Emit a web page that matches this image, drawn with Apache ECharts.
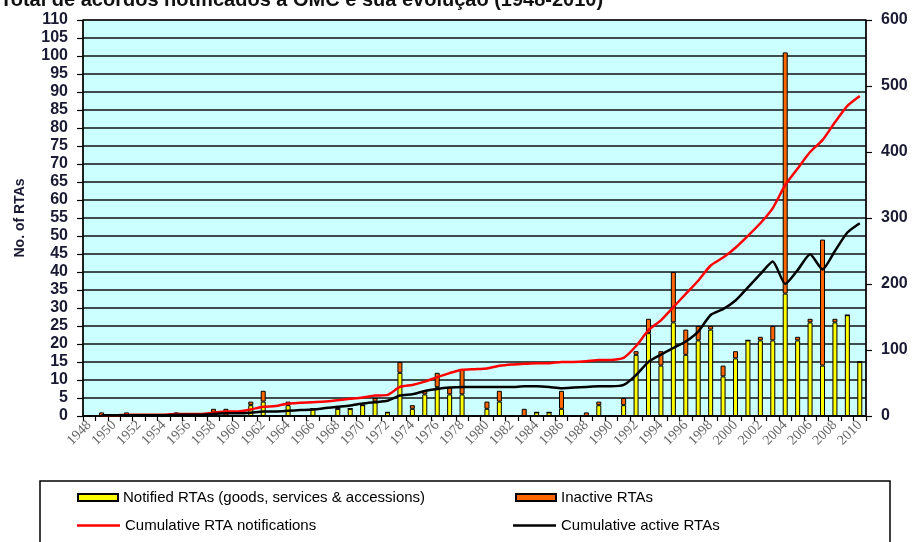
<!DOCTYPE html>
<html>
<head>
<meta charset="utf-8">
<script src="https://cdn.jsdelivr.net/npm/echarts@6/dist/echarts.min.js"></script>
<style>
html,body{margin:0;padding:0;background:#fff;}
#c{width:915px;height:542px;}
</style>
</head>
<body>
<div id="c"></div>
<script>
var titleText = 'Total de acordos notificados à OMC e sua evolução (1948-2010)';
var years = [];
for (var y = 1948; y <= 2010; y++) years.push(String(y));

// Notified RTAs still active (yellow part of each bar)
var notified = [0,0,0,0,0,0,0,0,0,0, 1,0,0,3,4,0,3,0,2,0, 2,2,3,4,1,12,2,6,8,6, 6,0,2,4,0,0,1,1,2,0, 0,3,0,3,17,23,14,26,17,21, 24,11,16,21,21,21,34,21,26,14, 26,28,15];
// Inactive RTAs (orange part stacked on top)
var inactive = [0,1,0,1,0,0,0,1,0,0, 1,2,0,1,3,0,1,0,0,0, 0,0,0,1,0,3,1,1,4,2, 7,0,2,3,0,2,0,0,5,0, 1,1,0,2,1,4,4,14,7,4, 1,3,2,0,1,4,67,1,1,35, 1,0,0];
// Cumulative RTA notifications (right axis)
var cumNotif = [null,1,1,2,2,2,2,3,3,3, 5,7,7,10,14,15,19,20,21,22, 24,26,28,31,32,44,47,52,59,65, 70,71,72,76,78,79,80,80,82,82, 83,85,85,88,106,130,145,165,185,205, 228,240,255,273,292,315,350,375,400,418, 445,470,485];
// Cumulative active RTAs (right axis)
var cumActive = [null,1,1,1,1,1,1,2,2,2, 3,4,4,5,7,7,8,9,10,12, 14,16,19,21,23,31,33,38,41,43, 44,44,44,44,44,45,45,44,42,43, 44,45,45,47,62,82,93,103,113,128, 153,162,175,195,215,234,200,221,245,222, 250,278,292];

var leftTicks = {min: 0, max: 110, interval: 5};
var rightTicks = {min: 0, max: 600, interval: 100};

var names = ['Notified RTAs (goods, services & accessions)', 'Inactive RTAs', 'Cumulative RTA notifications', 'Cumulative active RTAs'];

var chart = echarts.init(document.getElementById('c'), null, {renderer: 'canvas'});
var axisLabelStyle = {color: '#1a1a33', fontSize: 16, fontWeight: 'bold', fontFamily: 'Liberation Sans, Arial, sans-serif'};
var legendText = {color: '#000', fontSize: 15, fontFamily: 'Liberation Sans, Arial, sans-serif'};
function leg(name, left, top, isLine) {
  return {data: [{name: name, icon: 'rect'}], left: left, top: top, padding: 0, itemWidth: isLine ? 43 : 40, itemHeight: isLine ? 2.5 : 7, itemGap: 0, z: 10, textStyle: legendText, selectedMode: false};
}
chart.setOption({
  animation: false,
  backgroundColor: '#fff',
  title: {text: titleText, left: 0, top: -10, padding: 0, textStyle: {fontSize: 20, fontWeight: 'bold', color: '#111', fontFamily: 'Liberation Sans, Arial, sans-serif'}},
  graphic: [{type: 'rect', z: 0, shape: {x: 40, y: 481, width: 850, height: 80}, style: {fill: '#fff', stroke: '#000', lineWidth: 1.5}}],
  legend: [leg(names[0], 77, 490, false), leg(names[1], 515, 490, false), leg(names[2], 77, 518, true), leg(names[3], 513, 518, true)],
  grid: {left: 83, right: 49, top: 20, bottom: 126, show: true, backgroundColor: '#CCFFFF', borderColor: '#000', borderWidth: 1},
  xAxis: {
    type: 'category', data: years, boundaryGap: true,
    axisLine: {lineStyle: {color: '#000', width: 1.5}},
    axisTick: {show: true, interval: 0, length: 5, lineStyle: {color: '#000', width: 1.2}},
    axisLabel: {interval: 1, rotate: 45, margin: 7, color: '#666', fontSize: 14, fontFamily: 'Liberation Serif, Times New Roman, serif'}
  },
  yAxis: [{
    type: 'value', min: leftTicks.min, max: leftTicks.max, interval: leftTicks.interval,
    name: 'No. of RTAs', nameLocation: 'middle', nameGap: 56, nameRotate: 90, nameMoveOverlap: false,
    nameTextStyle: {color: '#1a1a33', fontSize: 14, fontWeight: 'bold', fontFamily: 'Liberation Sans, Arial, sans-serif'},
    axisLine: {show: true, lineStyle: {color: '#000', width: 1.5}},
    axisTick: {show: true, length: 6, lineStyle: {color: '#000', width: 1.2}},
    splitLine: {show: true, lineStyle: {color: '#111', width: 1.5}},
    axisLabel: Object.assign({margin: 15}, axisLabelStyle)
  }, {
    type: 'value', position: 'right', min: rightTicks.min, max: rightTicks.max, interval: rightTicks.interval,
    axisLine: {show: true, lineStyle: {color: '#000', width: 1.5}},
    axisTick: {show: true, length: 6, lineStyle: {color: '#000', width: 1.2}},
    splitLine: {show: false},
    axisLabel: Object.assign({margin: 15}, axisLabelStyle)
  }],
  series: [{
    name: names[0], type: 'bar', stack: 'rta', data: notified, barWidth: 5,
    itemStyle: {color: '#FFFF00', borderColor: '#000', borderWidth: 1}
  }, {
    name: names[1], type: 'bar', stack: 'rta', data: inactive, barWidth: 5,
    itemStyle: {color: '#FF6600', borderColor: '#000', borderWidth: 1}
  }, {
    name: names[2], type: 'line', yAxisIndex: 1, data: cumNotif, showSymbol: false, symbol: 'none', smooth: 0.2,
    lineStyle: {color: '#FF0000', width: 2.5}, itemStyle: {color: '#FF0000'}, z: 5
  }, {
    name: names[3], type: 'line', yAxisIndex: 1, data: cumActive, showSymbol: false, symbol: 'none', smooth: 0.2,
    lineStyle: {color: '#000', width: 2.5}, itemStyle: {color: '#000'}, z: 5
  }]
});
</script>
</body>
</html>
